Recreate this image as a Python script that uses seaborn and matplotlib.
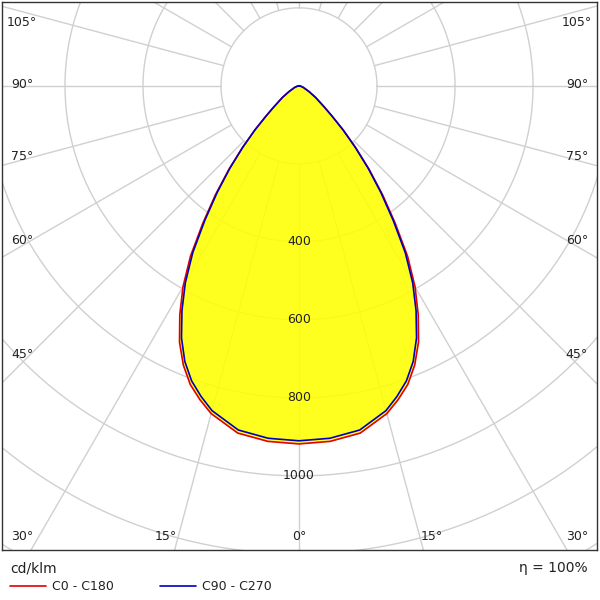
import numpy as np
import pandas as pd
import matplotlib
matplotlib.use("Agg")
import matplotlib.pyplot as plt
import seaborn as sns

# gamma angles (deg) and intensities in cd/klm
gamma = [0, 5, 10, 15, 17.5, 20, 22.5, 25, 27.5, 30, 32.5, 35, 37.5, 40, 42.5, 45, 47.5, 50, 55, 60, 70, 80, 90]
c0_c180 = [918, 915, 904, 870, 844, 815, 775, 725, 662, 595, 518, 430, 352, 280, 215, 160, 115, 85, 52, 30, 12, 4, 0]
c90_c270 = [910, 907, 896, 862, 835, 805, 765, 713, 650, 583, 507, 421, 345, 276, 213, 160, 115, 85, 52, 30, 12, 4, 0]
ring_values = [400, 600, 800, 1000]
eta_text = "η = 100%"

sns.set_theme(style="white")
fig = plt.figure(figsize=(6, 6), dpi=100)
ax = fig.add_axes([2 / 600, 50 / 600, 595 / 600, 548 / 600])
ax.set_xlim(-761.5, 764)
ax.set_ylim(-1190, 215)
ax.set_aspect("equal")
ax.set_xticks([]); ax.set_yticks([])
for s in ax.spines.values():
    s.set_color("#333333"); s.set_linewidth(1)

# grid: circles and radial rays outside 200
t = np.linspace(0, 2 * np.pi, 400)
for r in range(200, 2200, 200):
    ax.plot(r * np.cos(t), r * np.sin(t), color="#d0d0d0", lw=1, zorder=1)
for a in range(0, 360, 15):
    ar = np.radians(a)
    ax.plot([200 * np.sin(ar), 3000 * np.sin(ar)], [-200 * np.cos(ar), -3000 * np.cos(ar)],
            color="#d0d0d0", lw=1, zorder=1)


def curve(vals):
    g = np.radians(np.array(gamma))
    v = np.array(vals)
    x = np.concatenate([-(v * np.sin(g))[::-1], (v * np.sin(g))[1:]])
    y = np.concatenate([-(v * np.cos(g))[::-1], (-v * np.cos(g))[1:]])
    return pd.DataFrame({"x": x, "y": y})


red = curve(c0_c180)
blue = curve(c90_c270)
ax.fill(red.x, red.y, color="#ffff00", alpha=0.88, lw=0, zorder=2)
sns.lineplot(data=red, x="x", y="y", sort=False, estimator=None, color="#e00000", lw=1.2, ax=ax, zorder=3)
sns.lineplot(data=blue, x="x", y="y", sort=False, estimator=None, color="#0000c0", lw=1.2, ax=ax, zorder=4)
ax.set_xlabel(""); ax.set_ylabel("")

for r in ring_values:
    ax.text(0, -r, str(r), ha="center", va="center", fontsize=9, color="#222222", zorder=5)

# angle labels along the box edges
fs = 9
W, H = 595, 548
def lab(px, py, s):
    ax.text(px / W, 1 - py / H, s, transform=ax.transAxes, ha="center", va="center",
            fontsize=fs, color="#222222", zorder=6)
for a, py in [(105, 20), (90, 82), (75, 154), (60, 238), (45, 352)]:
    lab(20, py, f"{a}°")
    lab(575, py, f"{a}°")
for px, s in [(20, "30°"), (164, "15°"), (297, "0°"), (430, "15°"), (575, "30°")]:
    lab(px, 535, s)

fig.text(10 / 600, 1 - 568 / 600, "cd/klm", fontsize=10, va="center", color="#222222")
fig.text(588 / 600, 1 - 568 / 600, eta_text, fontsize=10, va="center", ha="right", color="#222222")
fig.add_artist(plt.Line2D([10 / 600, 46 / 600], [1 - 586 / 600] * 2, color="#e00000", lw=1.2))
fig.text(52 / 600, 1 - 586 / 600, "C0 - C180", fontsize=9, va="center", color="#222222")
fig.add_artist(plt.Line2D([160 / 600, 196 / 600], [1 - 586 / 600] * 2, color="#0000c0", lw=1.2))
fig.text(202 / 600, 1 - 586 / 600, "C90 - C270", fontsize=9, va="center", color="#222222")

fig.savefig("out.png", dpi=100)
